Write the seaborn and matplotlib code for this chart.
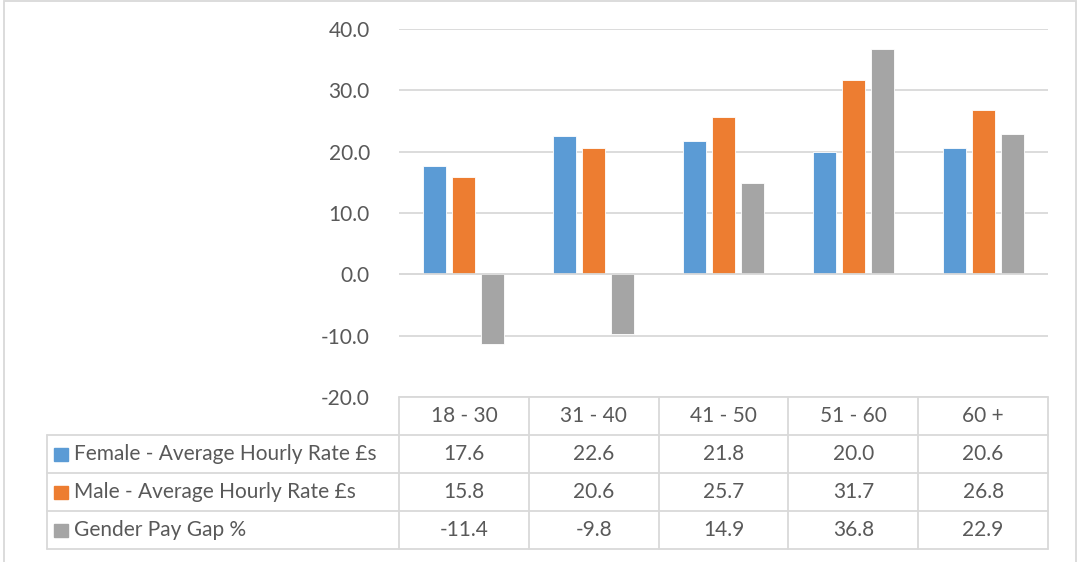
import matplotlib
matplotlib.use("Agg")
import matplotlib.pyplot as plt
import seaborn as sns
import pandas as pd
from matplotlib.lines import Line2D
from matplotlib.patches import Rectangle
from matplotlib.transforms import blended_transform_factory

categories = ["18 - 30", "31 - 40", "41 - 50", "51 - 60", "60 +"]
series_names = ["Female - Average Hourly Rate £s",
                "Male - Average Hourly Rate £s",
                "Gender Pay Gap %"]
female = [17.6, 22.6, 21.8, 20.0, 20.6]
male = [15.8, 20.6, 25.7, 31.7, 26.8]
gap = [-11.4, -9.8, 14.9, 36.8, 22.9]
colors = ["#5B9BD5", "#ED7D31", "#A5A5A5"]
yticks = [-20, -10, 0, 10, 20, 30, 40]

sns.set_theme(style="white")
plt.rcParams["font.family"] = ["Lato", "DejaVu Sans"]
TXT = "#595959"
GRID = "#D9D9D9"
FS = 15

W, H = 1078, 562
fig = plt.figure(figsize=(W / 100, H / 100), dpi=100)
ax = fig.add_axes([399 / W, 1 - 397 / H, (1048 - 399) / W, (397 - 29) / H])

rows = []
for name, vals in zip(series_names, [female, male, gap]):
    for c, v in zip(categories, vals):
        rows.append({"cat": c, "series": name, "value": v})
df = pd.DataFrame(rows)

sns.barplot(data=df, x="cat", y="value", hue="series", order=categories,
            hue_order=series_names, palette=colors, width=0.67, gap=0.21,
            saturation=1, edgecolor="white", linewidth=0.6, legend=False, ax=ax,
            zorder=3, errorbar=None)

ax.set_ylim(-20, 40)
ax.set_xlim(-0.5, len(categories) - 0.5)
ax.set_yticks(yticks)
ax.set_yticklabels([f"{t:.1f}" for t in yticks], color=TXT, fontsize=FS)
ax.tick_params(axis="y", length=0, pad=21)
ax.set_xticks([])
ax.set_xlabel("")
ax.set_ylabel("")
for s in ax.spines.values():
    s.set_visible(False)
for t in yticks:
    ax.axhline(t, color=GRID, lw=1.3, zorder=1)
ax.axhline(0, color=GRID, lw=1.3, zorder=4)

# data table
tr = blended_transform_factory(ax.transData, fig.transFigure)
def fy(p):
    return 1 - p / H
px_per_cat = (1048 - 399) / len(categories)
x_left_table = -0.5 - (399 - 47) / px_per_cat
xr = len(categories) - 0.5
row_edges = [397, 435, 473, 511, 549]
lw = 1.3
for i, yp in enumerate(row_edges):
    x0 = -0.5 if i == 0 else x_left_table
    fig.add_artist(Line2D([x0, xr], [fy(yp), fy(yp)], transform=tr, color=GRID, lw=lw))
for j in range(len(categories) + 1):
    xv = j - 0.5
    fig.add_artist(Line2D([xv, xv], [fy(397), fy(549)], transform=tr, color=GRID, lw=lw))
fig.add_artist(Line2D([x_left_table, x_left_table], [fy(435), fy(549)], transform=tr, color=GRID, lw=lw))

for j, c in enumerate(categories):
    fig.text(j, fy((397 + 435) / 2), c, transform=tr, ha="center", va="center",
             color=TXT, fontsize=FS)
for i, (name, vals, col) in enumerate(zip(series_names, [female, male, gap], colors)):
    yc = (row_edges[i + 1] + row_edges[i + 2]) / 2
    fig.add_artist(Rectangle((54 / W, fy(yc + 7)), 13.5 / W, 13.5 / H,
                             transform=fig.transFigure, color=col))
    fig.text(74 / W, fy(yc), name, ha="left", va="center", color=TXT, fontsize=FS)
    for j, v in enumerate(vals):
        fig.text(j, fy(yc), f"{v:.1f}", transform=tr, ha="center", va="center",
                 color=TXT, fontsize=FS)

fig.add_artist(Rectangle((3.5 / W, -0.01), (1075.5 - 3.5) / W, 1.01 - 0.5 / H,
                         transform=fig.transFigure, fill=False, edgecolor=GRID, lw=1.3))

fig.savefig("out.png", dpi=100, facecolor="white")
